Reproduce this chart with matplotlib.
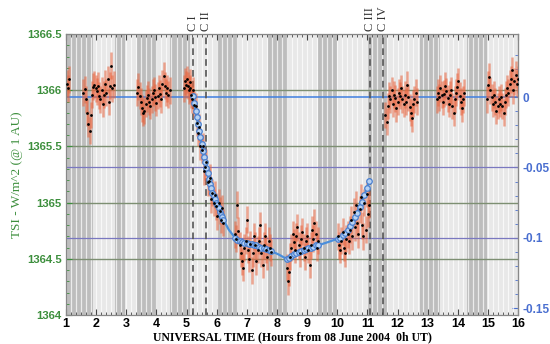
import numpy as np
import matplotlib
matplotlib.use("Agg")
import matplotlib.pyplot as plt

# ---- TSI measurements (W/m^2 at 1 AU), grouped by observing window ----
t_a = [1.03, 1.06, 1.09]
v_a = [1366.06, 1366.02, 1366.10]

t_b = [1.58, 1.62, 1.66, 1.70, 1.74, 1.78, 1.82, 1.86, 1.90, 1.94, 1.98, 2.02, 2.06,
       2.10, 2.14, 2.18, 2.22, 2.26, 2.30, 2.34, 2.38, 2.42, 2.46, 2.50, 2.54, 2.58]
v_b = [1365.98, 1366.01, 1365.92, 1365.80, 1365.70, 1365.64, 1365.78, 1365.96, 1366.03,
       1366.05, 1366.02, 1365.99, 1366.04, 1365.95, 1365.92, 1366.00, 1365.88, 1365.96,
       1366.06, 1365.98, 1366.10, 1365.90, 1366.04, 1366.22, 1366.02, 1366.05]

t_c = [3.36, 3.40, 3.44, 3.48, 3.52, 3.56, 3.60, 3.64, 3.68, 3.72, 3.76, 3.80, 3.84, 3.88,
       3.92, 3.96, 4.00, 4.04, 4.08, 4.12, 4.16, 4.20, 4.24, 4.28, 4.32, 4.36, 4.40, 4.44]
v_c = [1365.98, 1366.03, 1365.95, 1365.90, 1365.84, 1365.80, 1365.82, 1365.88, 1365.93,
       1365.96, 1365.90, 1365.86, 1365.92, 1365.98, 1366.00, 1365.94, 1365.89, 1365.95,
       1366.02, 1365.97, 1365.92, 1366.06, 1366.13, 1366.04, 1365.98, 1366.02, 1365.96,
       1366.00]

t_d = [4.92, 4.95, 4.98, 5.01, 5.04, 5.07, 5.10, 5.13, 5.16, 5.19]
v_d = [1366.02, 1366.08, 1366.05, 1366.10, 1366.04, 1366.00, 1366.07, 1366.02, 1365.96,
       1365.92]

t_ing = [5.22, 5.26, 5.30, 5.34, 5.38, 5.42, 5.46, 5.50, 5.54, 5.58, 5.62, 5.66, 5.70,
         5.74, 5.78, 5.82, 5.86, 5.90, 5.94, 5.98, 6.02, 6.06, 6.10, 6.14, 6.18, 6.22]
v_ing = [1366.00, 1365.87, 1365.86, 1365.71, 1365.62, 1365.67, 1365.50, 1365.47, 1365.50,
         1365.28, 1365.32, 1365.36, 1365.18, 1365.19, 1365.22, 1365.03, 1365.09, 1365.00,
         1365.07, 1364.97, 1364.88, 1365.00, 1364.93, 1364.85, 1364.95, 1364.82]

t_e = [6.60, 6.64, 6.68, 6.72, 6.76, 6.80, 6.84, 6.88, 6.92, 6.96, 7.00, 7.04, 7.08, 7.12,
       7.16, 7.20, 7.24, 7.28, 7.32, 7.36, 7.40, 7.44, 7.48, 7.52, 7.56, 7.60, 7.64, 7.68,
       7.72, 7.76, 7.80]
v_e = [1364.72, 1364.68, 1364.98, 1364.75, 1364.62, 1364.55, 1364.48, 1364.42, 1364.60,
       1364.66, 1364.85, 1364.58, 1364.50, 1364.63, 1364.40, 1364.55, 1364.70, 1364.62,
       1364.48, 1364.58, 1364.66, 1364.80, 1364.55, 1364.45, 1364.62, 1364.70, 1364.58,
       1364.52, 1364.66, 1364.60, 1364.56]

t_f = [8.32, 8.36, 8.40, 8.44, 8.48, 8.52, 8.56, 8.60, 8.64, 8.68, 8.72, 8.76, 8.80, 8.84,
       8.88, 8.92, 8.96, 9.00, 9.04, 9.08, 9.12, 9.16, 9.20, 9.24, 9.28, 9.32, 9.36]
v_f = [1364.42, 1364.30, 1364.38, 1364.52, 1364.60, 1364.72, 1364.65, 1364.58, 1364.70,
       1364.78, 1364.62, 1364.55, 1364.68, 1364.74, 1364.60, 1364.52, 1364.66, 1364.70,
       1364.58, 1364.45, 1364.62, 1364.76, 1364.68, 1364.82, 1364.72, 1364.60, 1364.66]

t_g = [10.02, 10.06, 10.10, 10.14, 10.18, 10.22, 10.26, 10.30, 10.34, 10.38, 10.42, 10.46,
       10.50, 10.54, 10.58, 10.62, 10.66, 10.70, 10.74, 10.78, 10.82, 10.86, 10.90, 10.94,
       10.98, 11.02, 11.06]
v_g = [1364.70, 1364.62, 1364.58, 1364.66, 1364.74, 1364.60, 1364.55, 1364.68, 1364.72,
       1364.66, 1364.76, 1364.85, 1364.70, 1364.92, 1364.78, 1364.98, 1364.82, 1364.72,
       1364.94, 1365.05, 1364.80, 1364.70, 1365.00, 1364.76, 1365.08, 1364.90, 1364.98]

t_h = [11.60, 11.64, 11.68, 11.72, 11.76, 11.80, 11.84, 11.88, 11.92, 11.96, 12.00, 12.04,
       12.08, 12.12, 12.16, 12.20, 12.24, 12.28, 12.32, 12.36, 12.40, 12.44, 12.48, 12.52,
       12.56, 12.60, 12.64]
v_h = [1365.78, 1365.72, 1365.86, 1365.95, 1365.92, 1366.00, 1365.88, 1365.96, 1365.93,
       1365.84, 1365.90, 1365.98, 1365.95, 1366.02, 1365.92, 1365.88, 1365.96, 1365.90,
       1366.05, 1365.94, 1365.85, 1365.80, 1365.75, 1365.88, 1365.92, 1365.98, 1365.90]

t_i = [13.30, 13.34, 13.38, 13.42, 13.46, 13.50, 13.54, 13.58, 13.62, 13.66, 13.70, 13.74,
       13.78, 13.82, 13.86, 13.90, 13.94, 13.98, 14.02, 14.06, 14.10, 14.14, 14.18, 14.22]
v_i = [1365.92, 1365.98, 1365.94, 1366.02, 1365.96, 1365.90, 1365.97, 1366.04, 1365.99,
       1365.93, 1365.88, 1365.96, 1366.00, 1365.86, 1365.80, 1365.92, 1365.98, 1366.03,
       1366.08, 1365.95, 1365.90, 1365.84, 1365.92, 1365.98]

t_j = [14.96, 15.00, 15.04, 15.08, 15.12, 15.16, 15.20, 15.24, 15.28, 15.32, 15.36, 15.40,
       15.44, 15.48, 15.52, 15.56, 15.60, 15.64, 15.68, 15.72, 15.76, 15.80, 15.84, 15.88,
       15.92, 15.96, 16.00]
v_j = [1365.92, 1366.05, 1366.12, 1366.00, 1365.94, 1365.88, 1365.96, 1365.90, 1365.82,
       1365.86, 1365.92, 1365.88, 1365.94, 1365.86, 1365.80, 1365.90, 1365.96, 1366.02,
       1365.98, 1366.06, 1366.10, 1366.18, 1366.00, 1366.08, 1366.14, 1366.06, 1366.10]

tsi_err = 0.12

# ---- Transit model (limb-darkened Venus disk) ----
model_t = [5.22, 5.26, 5.30, 5.34, 5.38, 5.42, 5.46, 5.50, 5.54, 5.58, 5.62, 5.66, 5.70,
           5.74, 5.78, 5.82, 5.86, 5.90, 5.94, 5.98, 6.02, 6.06, 6.10, 6.14, 6.18, 6.22,
           6.40, 6.60, 6.68, 6.76, 6.84, 6.92, 7.00, 7.08, 7.16, 7.24, 7.32, 7.40, 7.48,
           7.56, 7.64, 7.72, 7.80, 8.05, 8.32, 8.40, 8.48, 8.56, 8.64, 8.72, 8.80, 8.88,
           8.96, 9.04, 9.12, 9.20, 9.28, 9.36, 9.70, 10.02, 10.10, 10.18, 10.26, 10.34,
           10.42, 10.50, 10.58, 10.66, 10.74, 10.82, 10.90, 10.98, 11.06]
model_v = [1365.95, 1365.89, 1365.82, 1365.76, 1365.70, 1365.64, 1365.58, 1365.52,
           1365.46, 1365.41, 1365.36, 1365.31, 1365.26, 1365.21, 1365.17, 1365.13,
           1365.09, 1365.06, 1365.03, 1365.00, 1364.98, 1364.95, 1364.92, 1364.89,
           1364.87, 1364.85, 1364.76, 1364.69, 1364.67, 1364.66, 1364.65, 1364.64,
           1364.64, 1364.63, 1364.63, 1364.62, 1364.62, 1364.61, 1364.60, 1364.60,
           1364.59, 1364.58, 1364.57, 1364.54, 1364.50, 1364.51, 1364.53, 1364.54,
           1364.55, 1364.56, 1364.57, 1364.58, 1364.59, 1364.60, 1364.60, 1364.61,
           1364.62, 1364.62, 1364.65, 1364.68, 1364.69, 1364.71, 1364.73, 1364.76,
           1364.79, 1364.83, 1364.87, 1364.91, 1364.96, 1365.01, 1365.07, 1365.13,
           1365.19]

# ---- Contact times and spacecraft night (shaded) intervals ----
contact_t = [5.20, 5.63, 11.07, 11.53]
contact_lbl = ["C I", "C II", "C III", "C IV"]
shade_start = [1.03, 2.63, 3.36, 4.45, 6.00, 7.70, 9.36, 10.99, 12.75, 14.30]
shade_end = [1.90, 2.96, 4.02, 5.12, 6.70, 8.37, 10.00, 11.65, 13.41, 14.97]

right_ticks = [0, -0.05, -0.1, -0.15]
left_ticks = [1364, 1364.5, 1365, 1365.5, 1366, 1366.5]
x_ticks = list(range(1, 17))

T0, SCALE = 1365.938, 0.08


def to_rel(v):
    return (v - T0) * SCALE


def to_tsi(r):
    return r / SCALE + T0


GREEN = "#3d8f3d"
BLUE = "#4a6fd0"
RED = "#e8643e"

fig = plt.figure(figsize=(5.5, 3.44), dpi=100)
ax = fig.add_axes([0.12, 0.084, 0.822, 0.817])
ax.set_xlim(1, 16)
ax.set_ylim(1364, 1366.5)
ax.set_facecolor("#e8e8e8")

# background: shaded bands plus fine light rulings every 10 minutes
for s, e in zip(shade_start, shade_end):
    ax.axvspan(s, e, color="#bdbdbd", lw=0, zorder=0.1)
for xv in np.arange(1, 16.01, 1 / 6):
    ax.axvline(xv, color="white", lw=0.9, alpha=0.7, zorder=0.2)

# horizontal reference lines for both scales
for yv in left_ticks[1:-1]:
    ax.axhline(yv, color="#7d8f72", lw=1.0, zorder=0.5)
for r in right_ticks[:-1]:
    col = "#3f7fe0" if r == 0 else "#7a78c0"
    ax.axhline(to_tsi(r), color=col, lw=1.1 if r == 0 else 0.9, zorder=0.6)

# contact lines
for ct, lbl in zip(contact_t, contact_lbl):
    ax.axvline(ct, color="#555555", lw=1.2, ls=(0, (4, 2.5)), zorder=0.7)
    ax.text(ct, 1366.53, lbl, rotation=90, ha="center", va="bottom",
            family="Liberation Serif", fontsize=9, color="#333333")

# measurements
groups = [(t_a, v_a), (t_b, v_b), (t_c, v_c), (t_d, v_d), (t_ing, v_ing), (t_e, v_e),
          (t_f, v_f), (t_g, v_g), (t_h, v_h), (t_i, v_i), (t_j, v_j)]
for tt, vv in groups:
    ax.errorbar(tt, vv, yerr=tsi_err, fmt="none", ecolor=RED, elinewidth=1.8,
                alpha=0.55, capsize=0, zorder=2)
for tt, vv in groups:
    ax.plot(tt, vv, "o", ms=2.0, color="black", mew=0, zorder=4)

# model curve, with markers where measurements exist
mt = np.array(model_t)
mv = np.array(model_v)
windows = [(min(tt), max(tt)) for tt, _ in groups]
has_data = np.array([any(a - 0.01 <= t <= b + 0.01 for a, b in windows) for t in mt])
ax.plot(mt, mv, color="#4a8fdc", lw=1.6, zorder=3)
ax.plot(mt[has_data], mv[has_data], "o", ms=4, mfc="#b8d2f2", mec="#4a80d0",
        mew=0.9, zorder=3.5)

# axes styling
ax.set_xticks(x_ticks)
ax.set_xticks(np.arange(1, 16.01, 1 / 6), minor=True)
ax.set_yticks(left_ticks)
ax.set_yticklabels(["1364", "1364.5", "1365", "1365.5", "1366", "1366.5"])
ax.set_yticks(np.arange(1364, 1366.51, 0.1), minor=True)
ax.tick_params(axis="x", which="both", direction="in", top=True, colors="#444444",
               labelcolor="black", labelsize=9, pad=2)
ax.tick_params(axis="x", which="major", length=4)
ax.tick_params(axis="x", which="minor", length=2)
ax.tick_params(axis="y", which="both", direction="in", colors=GREEN, labelcolor=GREEN,
               labelsize=8.2, pad=3)
ax.tick_params(axis="y", which="major", length=4)
ax.tick_params(axis="y", which="minor", length=2)
for lab in ax.get_xticklabels() + ax.get_yticklabels():
    lab.set_fontweight("bold")
    lab.set_family("Liberation Sans")
for sp in ax.spines.values():
    sp.set_color("#888888")
    sp.set_linewidth(0.9)

sec = ax.secondary_yaxis("right", functions=(to_rel, to_tsi))
sec.set_yticks(right_ticks)
sec.set_yticklabels(["0", "-0.05", "-0.1", "-0.15"])
sec.set_yticks(np.arange(-0.15, 0.035, 0.01), minor=True)
sec.tick_params(axis="y", which="both", direction="in", colors=BLUE, labelcolor=BLUE,
                labelsize=8.5, pad=3)
sec.tick_params(axis="y", which="major", length=4)
sec.tick_params(axis="y", which="minor", length=2)
sec.spines["right"].set_color("#888888")
for lab in sec.get_yticklabels():
    lab.set_fontweight("bold")
    lab.set_family("Liberation Sans")

ax.set_xlabel("UNIVERSAL TIME (Hours from 08 June 2004  0h UT)", family="Liberation Serif",
              fontweight="bold", fontsize=8.5, labelpad=1)
ax.set_ylabel("TSI - W/m^2 (@ 1 AU)", family="Liberation Serif", fontsize=9.5,
              color=GREEN)
ax.yaxis.set_label_coords(-0.095, 0.5)

fig.savefig("out.png", dpi=100)
